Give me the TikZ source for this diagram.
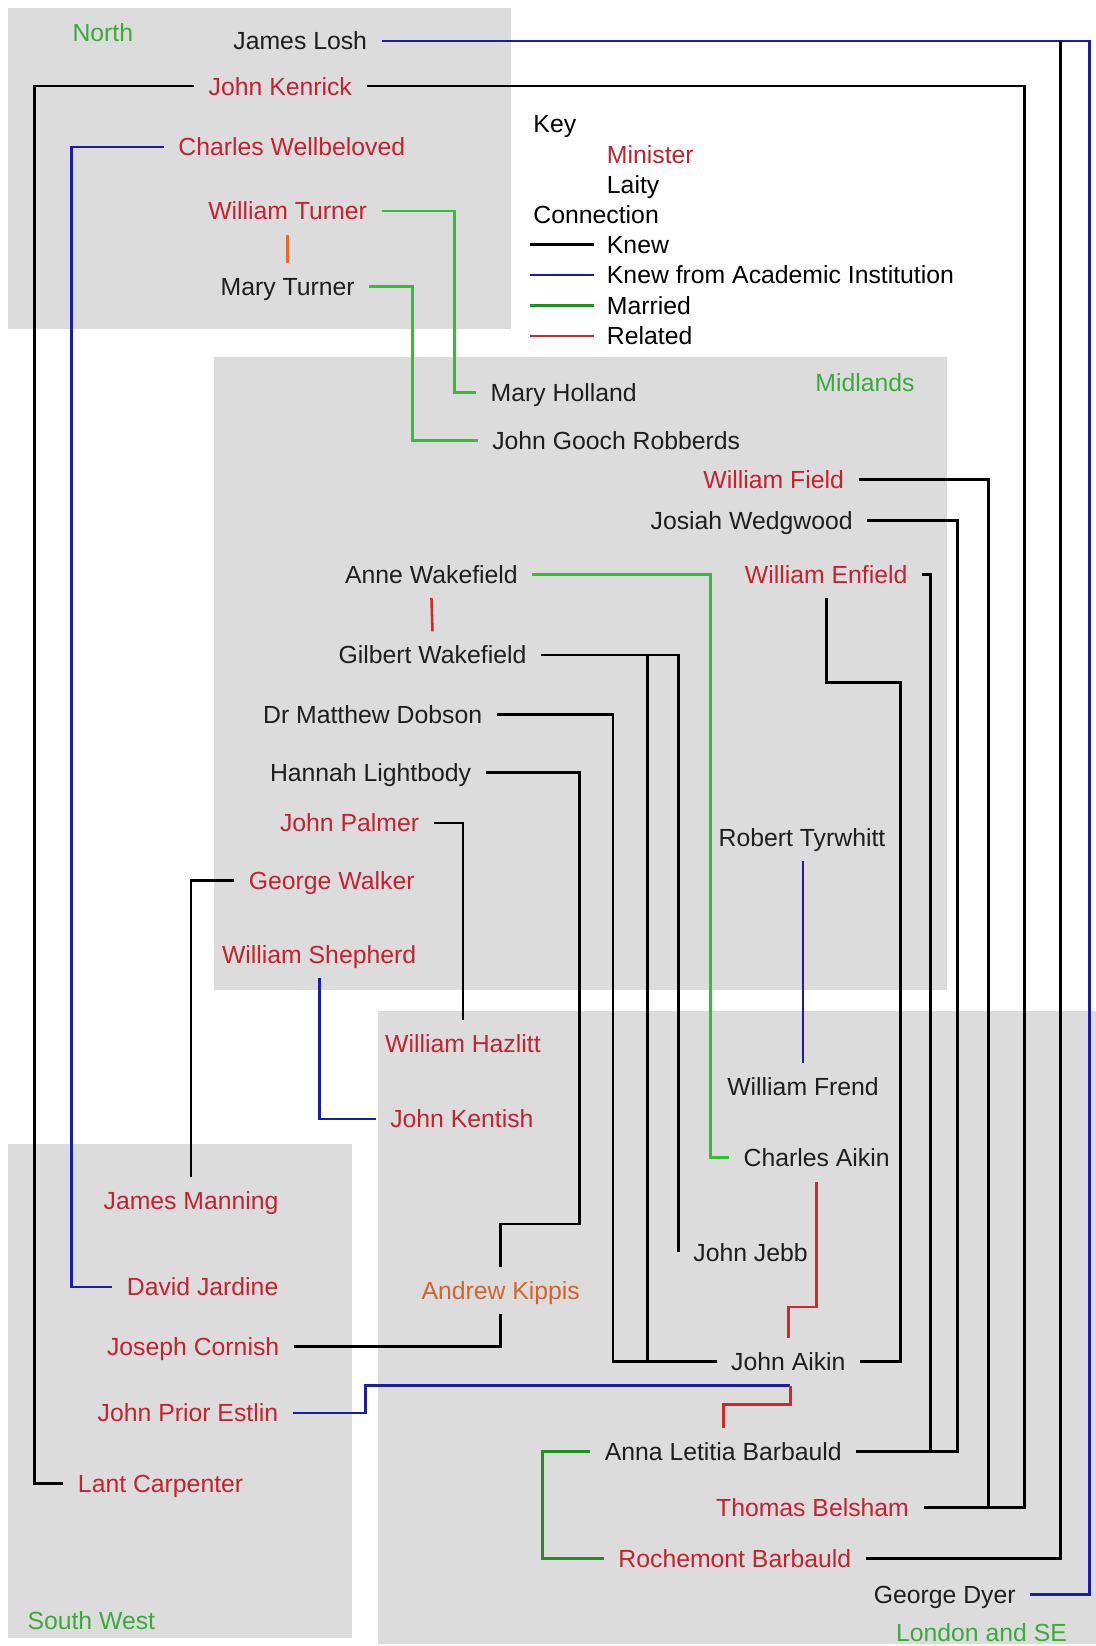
\documentclass[tikz,border=0pt]{standalone}
\usepackage{fontspec}
\setmainfont{Liberation Sans}
\usetikzlibrary{calc}
\definecolor{regiongrey}{HTML}{DCDCDC}
\definecolor{minred}{HTML}{C4222E}
\definecolor{kipporange}{HTML}{D2642E}
\definecolor{laityblack}{HTML}{1E1E1E}
\definecolor{regiongreen}{HTML}{3AAA3A}
\definecolor{acadblue}{HTML}{1C1CAA}
\definecolor{marriedgreen}{HTML}{30C030}
\definecolor{marrieddark}{HTML}{209020}
\definecolor{relred}{HTML}{D42828}
\definecolor{relorange}{HTML}{E8682A}
\newcommand\namesize{\fontsize{23.6}{28}\selectfont}
\begin{document}
\begin{tikzpicture}[x=1pt,y=-1pt,
  person/.style={font=\namesize, inner sep=0pt, outer xsep=14pt, outer ysep=14pt, text height=17pt, text depth=0pt},
  minister/.style={person, text=minred},
  laity/.style={person, text=laityblack},
  keytext/.style={font=\namesize, inner sep=0pt, text height=17pt, text depth=0pt, anchor=west},
  region/.style={fill=regiongrey, draw=none},
  regionlabel/.style={font=\namesize, text=regiongreen, inner sep=0pt, text height=17pt, text depth=0pt},
  knew/.style={draw=black, line width=2.7pt},
  acad/.style={draw=acadblue, line width=2.7pt},
  married/.style={draw=marriedgreen, line width=2.7pt},
  marrieddk/.style={draw=marrieddark, line width=2.7pt},
  related/.style={draw=relred, line width=2.4pt},
  relatedor/.style={draw=relorange, line width=2.4pt}]
\useasboundingbox (0,0) rectangle (1044,1568);
\fill[white] (0,0) rectangle (1044,1568);
% regions
\fill[region] (8,8) rectangle (487,313);
\fill[region] (204,340) rectangle (902,943);
\fill[region] (360,963) rectangle (1044,1566);
\fill[region] (8,1090) rectangle (335,1560);
\node[regionlabel] (lnorth) at (98,31) {North};
\node[regionlabel] (lmid) at (824,364) {Midlands};
\node[regionlabel] (lsw) at (87,1544) {South West};
\node[regionlabel] (llon) at (935,1555) {London and SE};
% key
\node[keytext] (kkey) at (508,118) {Key};
\node[keytext, text=minred] (kmin) at (578,147) {Minister};
\node[keytext] (klaity) at (578,176) {Laity};
\node[keytext] (kconn) at (508,204) {Connection};
\node[keytext] (kknew) at (578,233) {Knew};
\node[keytext] (kacad) at (578,262) {Knew from Academic Institution};
\node[keytext] (kmar) at (578,291) {Married};
\node[keytext] (krel) at (578,320) {Related};
\draw[knew] (505,233) -- (566,233);
\draw[acad] (505,262) -- (566,262);
\draw[marrieddk] (505,291) -- (566,291);
\draw[related] (505,320) -- (566,320);
% people
\node[laity] (losh) at (286,39) {James Losh};
\node[minister] (kenrick) at (267,82) {John Kenrick};
\node[minister] (wellbeloved) at (278,140) {Charles Wellbeloved};
\node[minister] (wturner) at (274,201) {William Turner};
\node[laity] (mturner) at (274,273) {Mary Turner};
\node[laity] (mholland) at (537,374) {Mary Holland};
\node[laity] (robberds) at (587,420) {John Gooch Robberds};
\node[minister] (field) at (737,457) {William Field};
\node[laity] (wedgwood) at (716,496) {Josiah Wedgwood};
\node[minister] (enfield) at (787,547) {William Enfield};
\node[laity] (awake) at (411,547) {Anne Wakefield};
\node[laity] (gwake) at (412,624) {Gilbert Wakefield};
\node[laity] (dobson) at (355,681) {Dr Matthew Dobson};
\node[laity] (lightbody) at (353,736) {Hannah Lightbody};
\node[minister] (palmer) at (333,784) {John Palmer};
\node[minister] (walker) at (316,839) {George Walker};
\node[minister] (shepherd) at (304,909) {William Shepherd};
\node[laity] (tyrwhitt) at (764,798) {Robert Tyrwhitt};
\node[minister] (hazlitt) at (441,994) {William Hazlitt};
\node[minister] (kentish) at (440,1066) {John Kentish};
\node[laity] (frend) at (765,1035) {William Frend};
\node[laity] (caikin) at (778,1103) {Charles Aikin};
\node[laity] (jebb) at (715,1193) {John Jebb};
\node[minister] (manning) at (182,1144) {James Manning};
\node[minister] (jardine) at (193,1226) {David Jardine};
\node[person, text=kipporange] (kippis) at (477,1229) {Andrew Kippis};
\node[minister] (cornish) at (184,1283) {Joseph Cornish};
\node[laity] (jaikin) at (751,1297) {John Aikin};
\node[minister] (estlin) at (179,1346) {John Prior Estlin};
\node[laity] (alb) at (689,1383) {Anna Letitia Barbauld};
\node[minister] (carpenter) at (153,1413) {Lant Carpenter};
\node[minister] (belsham) at (774,1436) {Thomas Belsham};
\node[minister] (rochemont) at (700,1485) {Rochemont Barbauld};
\node[laity] (dyer) at (900,1519) {George Dyer};
% helper coordinates for tracks and junctions
\coordinate (tKen) at (33,0);
\coordinate (tWel) at (68,0);
\coordinate (tKenR) at (976,0);
\coordinate (tFld) at (942,1436);
\coordinate (tWed) at (912,0);
\coordinate (tEnf) at (886,1383);
\coordinate (tEnfB) at (858,650);
\coordinate (tAW) at (677,0);
\coordinate (tWT) at (433,0);
\coordinate (tMT) at (393,0);
\coordinate (gwj) at (617,624);
\coordinate (tDob) at (584,0);
\coordinate (tLB) at (552,1166);
\coordinate (tBlue) at (1038,0);
\coordinate (loshj) at (1010,39);
\coordinate (tEst) at (348,1320);
\coordinate (estj) at (753,1320);
\coordinate (rA) at (0,1245);
\coordinate (tALB) at (517,0);
% connectors
\draw[acad] (losh.east) -- (losh.east -| tBlue) |- (dyer.east);
\draw[knew] (rochemont.east) -| (loshj);
\draw[knew] (kenrick.west) -- (kenrick.west -| tKen) |- (carpenter.west);
\draw[knew] (kenrick.east) -- (kenrick.east -| tKenR) |- (belsham.east);
\draw[knew] (field.east) -| (tFld);
\draw[acad] (wellbeloved.west) -- (wellbeloved.west -| tWel) |- (jardine.west);
\draw[married] (wturner.east) -- (wturner.east -| tWT) |- (mholland.west);
\draw[relatedor] (wturner.south) -- (mturner.north);
\draw[married] (mturner.east) -- (mturner.east -| tMT) |- (robberds.west);
\draw[knew] (wedgwood.east) -- (wedgwood.east -| tWed) |- (alb.east);
\draw[knew] (enfield.east) -| (tEnf);
\draw[knew] (enfield.south) |- (tEnfB) |- (jaikin.east);
\draw[married] (awake.east) -- (awake.east -| tAW) |- (caikin.west);
\draw[related] (awake.south) -- (gwake.north);
\draw[knew] (gwake.east) -| (jebb.west);
\draw[knew] (gwj) |- (jaikin.west);
\draw[knew] (dobson.east) -- (dobson.east -| tDob) |- (jaikin.west);
\draw[knew] (lightbody.east) -| (tLB) -| (kippis.north);
\draw[knew] (palmer.east) -| (hazlitt.north);
\draw[knew] (walker.west) -| (manning.north);
\draw[acad] (shepherd.south) |- (kentish.west);
\draw[acad] (tyrwhitt.south -| frend.north) -- (frend.north);
\draw[related] (caikin.south) |- (rA -| jaikin.north) -- (jaikin.north);
\draw[knew] (kippis.south) |- (cornish.east);
\draw[acad] (estlin.east) -| (tEst) -- (estj);
\draw[related] (estj) -- ++(0,18) -| (alb.north);
\draw[marrieddk] (alb.west) -- (alb.west -| tALB) |- (rochemont.west);
\end{tikzpicture}
\end{document}
